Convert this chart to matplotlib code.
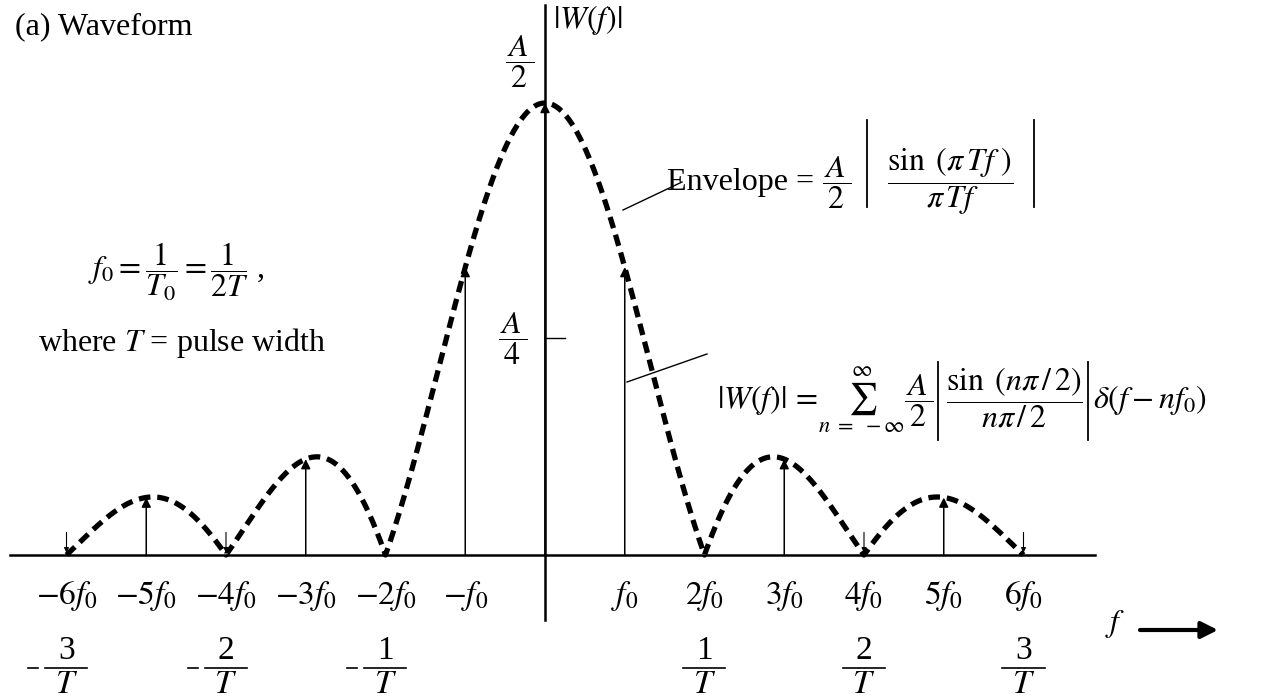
import numpy as np
import matplotlib.pyplot as plt

plt.rcParams['mathtext.fontset'] = 'stix'
plt.rcParams['font.family'] = ['Liberation Serif', 'DejaVu Serif']

# harmonics n (in units of f0) and line heights (in units of A/2)
harmonics = [-6, -5, -4, -3, -2, -1, 0, 1, 2, 3, 4, 5, 6]
heights = [0.0, 0.127, 0.0, 0.212, 0.0, 0.637, 1.0, 0.637, 0.0, 0.212, 0.0, 0.127, 0.0]
tick_labels = [r'$-6f_0$', r'$-5f_0$', r'$-4f_0$', r'$-3f_0$', r'$-2f_0$', r'$-f_0$', '',
               r'$f_0$', r'$2f_0$', r'$3f_0$', r'$4f_0$', r'$5f_0$', r'$6f_0$']
period_pos = [-6, -4, -2, 2, 4, 6]
period_num = ['3', '2', '1', '1', '2', '3']
quarter_level = 0.48   # where the A/4 mark sits

W, H = 1268, 698
X0, Y0 = 545, 555          # pixel position of the origin
SX, SY = 79.75, 452.0      # pixels per f0, pixels per A/2

fig = plt.figure(figsize=(W / 100, H / 100), dpi=100)
ax = fig.add_axes([0, 0, 1, 1])
ax.set_xlim(-X0 / SX, (W - X0) / SX)
ax.set_ylim(-(H - Y0) / SY, Y0 / SY)
ax.axis('off')
renderer = fig.canvas.get_renderer()

FS = 23


def px(x, y):
    # image pixel (from top left) -> data
    return (x - X0) / SX, (Y0 - y) / SY


def vbar(x, y1, y2, lw=1.3):
    a = px(x, y1)
    b = px(x, y2)
    ax.plot([a[0], b[0]], [a[1], b[1]], color='black', lw=lw)


def row(x, y, items):
    # lay text pieces left to right on a common baseline, 'bar' items are thin lines
    for it in items:
        if it[0] == 'gap':
            x += it[1]
        elif it[0] == 'bar':
            vbar(x, it[1], it[2])
        else:
            t = ax.text(*px(x, y), it[1], ha='left', va='baseline', fontsize=FS)
            x += t.get_window_extent(renderer).width


# axes
ax.plot(*zip(px(10, Y0), px(1095, Y0)), color='black', lw=1.8)
ax.plot(*zip(px(X0, 5), px(X0, 620)), color='black', lw=1.8)

# envelope  A/2 |sin(pi T f)/(pi T f)| with T = 1/(2 f0)
xf = np.linspace(-6, 6, 1201)
env = np.abs(np.sinc(xf / 2))
ax.plot(xf, env, color='black', lw=3.8, dashes=(2.2, 1.3))

# spectral lines
for n, h in zip(harmonics, heights):
    if h > 0:
        ax.annotate('', xy=(n, h), xytext=(n, 0),
                    arrowprops=dict(arrowstyle='-|>', color='black', lw=1.1,
                                    mutation_scale=14, shrinkA=0, shrinkB=0))
    elif abs(n) >= 4:
        ax.annotate('', xy=(n, 0.005), xytext=(n, 0.05),
                    arrowprops=dict(arrowstyle='-|>', color='black', lw=0.8,
                                    mutation_scale=7, shrinkA=0, shrinkB=0))

# tick labels
for n, lab in zip(harmonics, tick_labels):
    ax.text(n, px(0, 596)[1], lab, ha='center', va='center', fontsize=FS + 1)
for p, num in zip(period_pos, period_num):
    ax.text(p, px(0, 651)[1], num, ha='center', va='center', fontsize=FS + 1)
    ax.text(p, px(0, 685)[1], r'$T$', ha='center', va='center', fontsize=FS + 1)
    ax.plot([p - 21 / SX, p + 21 / SX], [px(0, 668)[1]] * 2, color='black', lw=1.2)
    if p < 0:
        ax.plot([p - 38 / SX, p - 28 / SX], [px(0, 668)[1]] * 2, color='black', lw=1.2)

# vertical axis labels
ax.text(*px(520, 62), r'$\dfrac{\,A\,}{\,2\,}$', ha='center', va='center', fontsize=FS)
ax.text(*px(553, 20), r'$|W(f)|$', ha='left', va='center', fontsize=FS)
ax.plot([0, 0.25], [quarter_level, quarter_level], color='black', lw=1.0)
ax.text(-0.40, quarter_level, r'$\dfrac{\,A\,}{\,4\,}$', ha='center', va='center', fontsize=FS)

# title and notes
ax.text(*px(15, 27), '(a) Waveform', ha='left', va='center', fontsize=FS)
ax.text(*px(88, 272), r'$f_0=\dfrac{1}{T_0}=\dfrac{1}{2T}$ ,', ha='left', va='center', fontsize=FS)
ax.text(*px(38, 343), r'where $T$ = pulse width', ha='left', va='center', fontsize=FS)

# envelope formula
row(667, 190, [('txt', 'Envelope = '),
               ('txt', r'$\dfrac{\,A\,}{\,2\,}$'),
               ('gap', 16), ('bar', 120, 207), ('gap', 20),
               ('txt', r'$\dfrac{\sin\ (\pi\, Tf\ )}{\pi\, Tf}$'),
               ('gap', 20), ('bar', 120, 207)])
ax.plot(*zip(px(623, 210), px(682, 182)), color='black', lw=1.0)

# spectrum formula
row(717, 408, [('txt', r'$|W(f)|\,=\,$'),
               ('txt', r'$\sum_{n\ =\ -\infty}^{\infty}$'),
               ('txt', r'$\dfrac{\,A\,}{\,2\,}$'),
               ('gap', 5), ('bar', 362, 440), ('gap', 8),
               ('txt', r'$\dfrac{\sin\ (n\pi\,/\,2)}{n\pi\,/\,2}$'),
               ('gap', 5), ('bar', 362, 440), ('gap', 5),
               ('txt', r'$\delta(f-nf_0)$')])
ax.plot(*zip(px(627, 382), px(707, 354)), color='black', lw=1.0)

# f arrow
ax.text(*px(1115, 624), r'$f$', ha='center', va='center', fontsize=FS)
ax.annotate('', xy=px(1218, 630), xytext=px(1140, 630),
            arrowprops=dict(arrowstyle='-|>', color='black', lw=3, mutation_scale=25,
                            shrinkA=0, shrinkB=0))

fig.savefig('out.png', dpi=100)
